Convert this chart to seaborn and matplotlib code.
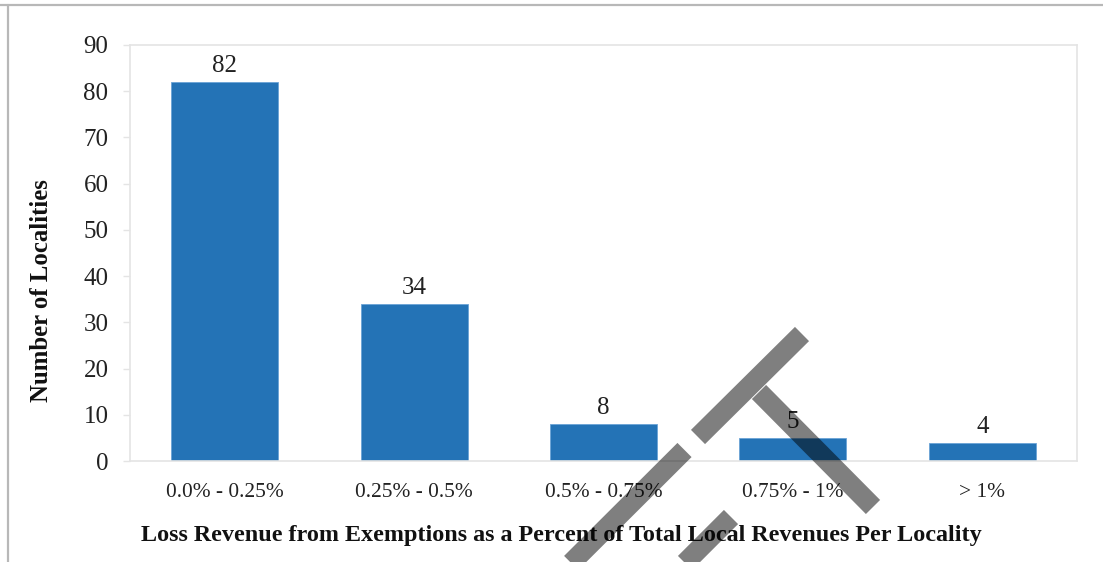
import matplotlib
matplotlib.use("Agg")
import matplotlib.pyplot as plt
from matplotlib.lines import Line2D
import numpy as np
import pandas as pd
import seaborn as sns

# Share of local revenue lost to exemptions, grouped into ranges
categories = ["0.0% - 0.25%", "0.25% - 0.5%", "0.5% - 0.75%", "0.75% - 1%", "> 1%"]
localities = [82, 34, 8, 5, 4]
y_ticks = [0, 10, 20, 30, 40, 50, 60, 70, 80, 90]

df = pd.DataFrame({"range": categories, "count": localities})

sns.set_theme(style="white")
plt.rcParams["font.family"] = ["Liberation Serif", "DejaVu Serif"]

W, H = 1103, 562
fig = plt.figure(figsize=(W / 100, H / 100), dpi=100)
ax = fig.add_axes([130 / W, 1 - 461 / H, 947 / W, 416 / H])

bar_color = "#2473b6"
sns.barplot(data=df, x="range", y="count", order=categories, color=bar_color,
            width=0.565, saturation=1, edgecolor="#6aa3d6", linewidth=0.6, ax=ax)

ax.set_ylim(0, 90)
ax.set_yticks(y_ticks)
ax.set_xlim(-0.5, len(categories) - 0.5)

frame_color = "#e4e4e4"
for side in ["left", "right", "top", "bottom"]:
    ax.spines[side].set_visible(True)
    ax.spines[side].set_color(frame_color)
    ax.spines[side].set_linewidth(1.2)

ax.tick_params(axis="y", which="major", left=True, length=5, width=1,
               color=frame_color, pad=10.5, labelsize=18, labelcolor="#222222")
ax.tick_params(axis="x", which="major", bottom=False, pad=10,
               labelsize=15.4, labelcolor="#222222")

# Value labels above bars
for i, v in enumerate(localities):
    ax.annotate(f"{v}", xy=(i, v), xytext=(0, 3.5), textcoords="offset points",
                ha="center", va="bottom", fontsize=18, color="#222222")

ax.set_xlabel("Loss Revenue from Exemptions as a Percent of Total Local Revenues Per Locality",
              fontsize=17.4, fontweight="bold", color="#111111")
ax.set_ylabel("Number of Localities", fontsize=17.8, fontweight="bold", color="#111111")
ax.xaxis.set_label_coords((561 - 130) / 947, (461 - 525) / 416)
ax.yaxis.set_label_coords((53 - 130) / 947, (461 - 291) / 416)


def px(x, y):
    return x / W, 1 - y / H


# Outer frame (top and left edges)
fig.add_artist(Line2D(*zip(px(0, 4.5), px(W, 4.5)), color="#b8b8b8", lw=1.6,
                      transform=fig.transFigure, zorder=5))
fig.add_artist(Line2D(*zip(px(8, 4.5), px(8, H)), color="#b8b8b8", lw=1.6,
                      transform=fig.transFigure, zorder=5))

# Stamp overlay
stroke = dict(color="black", alpha=0.5, lw=20 * 72 / 100, solid_capstyle="butt",
              transform=fig.transFigure, zorder=20)
segments = [
    ((698, 437), (802, 334)),
    ((759, 392), (873, 507)),
    ((684.5, 450), (524, 610)),
    ((731, 517), (640, 608)),
]
for (x0, y0), (x1, y1) in segments:
    a, b = px(x0, y0), px(x1, y1)
    fig.add_artist(Line2D([a[0], b[0]], [a[1], b[1]], **stroke))

fig.savefig("out.png", dpi=100)
